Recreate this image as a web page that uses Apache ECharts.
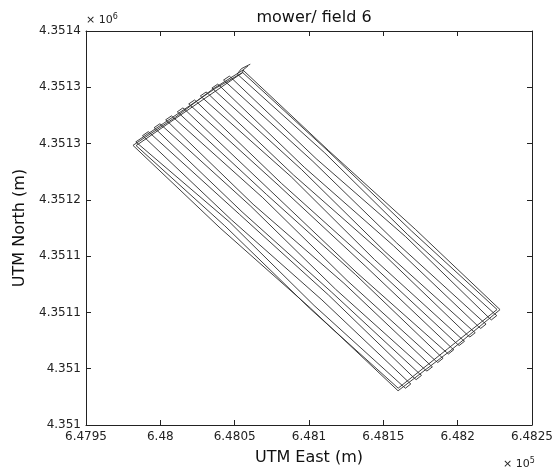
<!DOCTYPE html>
<html>
<head>
<meta charset="utf-8">
<title>mower/ field 6</title>
<script src="https://cdn.jsdelivr.net/npm/echarts@6.0.0/dist/echarts.min.js"></script>
<style>
    html, body { margin: 0; padding: 0; background: #fff; }
    #chart { width: 556px; height: 471px; }
</style>
</head>
<body>
<div id="chart"></div>
<script>
// UTM origin of the plotted window (m); track points are offsets from it
var EAST_ORIGIN = 647950;
var NORTH_ORIGIN = 4351000;
var TICK_STEP = 50;

var xTickLabels = ['6.4795', '6.48', '6.4805', '6.481', '6.4815', '6.482', '6.4825'];
var yTickLabels = ['4.351', '4.351', '4.3511', '4.3511', '4.3512', '4.3513', '4.3513', '4.3514'];

// two headland laps round the field, then back along the top edge
var headland = [
    [109.0, 319.0], [105.6, 315.3], [85.3, 298.4], [60.4, 273.6], [31.6, 248.4],
    [90.2, 175.0], [151.0, 103.8], [209.9, 30.4], [244.9, 65.8], [278.5, 102.5],
    [221.5, 173.9], [163.0, 244.0], [105.6, 315.3],
    [105.4, 313.1], [69.6, 280.8], [33.7, 248.2], [93.3, 177.0], [150.5, 103.6],
    [210.0, 32.7], [243.1, 67.5], [276.5, 102.6], [219.0, 172.3], [162.8, 243.4],
    [105.4, 313.1],
    [87.0, 299.0], [52.0, 267.8], [33.5, 251.5]
];

// back and forth passes with the turns between them
var passes = [
    [96.3, 180.6], [153.4, 106.2], [213.5, 34.2], [214.9, 32.7], [218.5, 36.5],
    [217.1, 38.0], [158.7, 111.1], [97.8, 182.3], [39.4, 255.4], [38.0, 257.0], [41.9, 260.6],
    [43.3, 259.0], [103.2, 187.2], [163.1, 115.5], [220.7, 41.8], [222.1, 40.3], [225.7, 44.1],
    [224.3, 45.6], [165.3, 117.9], [105.0, 189.3], [47.2, 262.5], [45.8, 264.1], [49.7, 267.6],
    [51.1, 266.0], [110.8, 194.4], [167.8, 120.7], [227.9, 49.4], [229.3, 47.9], [233.0, 51.7],
    [231.6, 53.2], [173.5, 125.9], [112.4, 196.1], [55.0, 269.5], [53.6, 271.1], [57.5, 274.6],
    [58.9, 273.0], [118.9, 201.9], [175.6, 128.4], [235.2, 57.0], [236.6, 55.5], [240.2, 59.3],
    [238.8, 60.8], [181.3, 133.6], [121.5, 204.7], [62.8, 276.6], [61.4, 278.2], [65.2, 281.7],
    [66.6, 280.1], [124.4, 207.7], [182.3, 135.1], [242.4, 64.6], [243.8, 63.1], [247.4, 66.9],
    [246.0, 68.4], [188.3, 140.7], [129.8, 212.5], [70.5, 283.6], [69.1, 285.2], [73.0, 288.7],
    [74.4, 287.1], [131.6, 214.5], [191.2, 143.8], [249.6, 72.1], [251.0, 70.6], [254.6, 74.4],
    [253.2, 75.9], [194.1, 146.9], [138.1, 220.4], [78.3, 290.7], [76.9, 292.3], [80.8, 295.8],
    [82.2, 294.2], [139.6, 222.1], [199.8, 152.1], [256.8, 79.7], [258.2, 78.2], [261.8, 82.0],
    [260.4, 83.5], [201.1, 154.0], [145.0, 226.9], [86.1, 297.7], [84.7, 299.3], [88.6, 302.8],
    [90.0, 301.2], [146.8, 229.0], [206.9, 159.2], [264.1, 87.3], [265.5, 85.8], [269.1, 89.6],
    [267.7, 91.1], [209.0, 161.7], [152.6, 234.2], [93.9, 304.8], [92.5, 306.4], [96.4, 309.9],
    [97.8, 308.3], [154.8, 236.6], [215.0, 167.3], [271.3, 94.9], [272.7, 93.4], [276.3, 97.2],
    [274.9, 98.7], [216.4, 169.1], [160.6, 241.7], [101.7, 311.8],
    [104.5, 316.5], [110.5, 320.5]
];

var track = headland.concat(passes).map(function (p) {
    return [EAST_ORIGIN + p[0], NORTH_ORIGIN + p[1]];
});

var FONT = 'DejaVu Sans';
var xMin = EAST_ORIGIN, xMax = EAST_ORIGIN + TICK_STEP * (xTickLabels.length - 1);
var yMin = NORTH_ORIGIN, yMax = NORTH_ORIGIN + TICK_STEP * (yTickLabels.length - 1);

function tickIndex(v, min) {
    return Math.round((v - min) / TICK_STEP);
}

var axisLine = { show: true, onZero: false, lineStyle: { color: '#222', width: 1 } };
var axisTick = { show: true, inside: true, length: 5, lineStyle: { color: '#222', width: 1 } };

var chart = echarts.init(document.getElementById('chart'));
chart.setOption({
    animation: false,
    backgroundColor: '#fff',
    title: {
        text: 'mower/ field 6',
        left: 309,
        textAlign: 'center',
        top: 5,
        textStyle: { fontFamily: FONT, fontSize: 16, fontWeight: 'normal', color: '#111' }
    },
    grid: { left: 86, right: 24, top: 31, bottom: 38, containLabel: false },
    xAxis: [{
        type: 'value', min: xMin, max: xMax, interval: TICK_STEP,
        name: 'UTM East (m)', nameLocation: 'middle', nameGap: 25,
        nameTextStyle: { fontFamily: FONT, fontSize: 16, color: '#111' },
        axisLine: axisLine, axisTick: axisTick, splitLine: { show: false },
        axisLabel: {
            margin: 6, fontFamily: FONT, fontSize: 12, color: '#222',
            formatter: function (v) { return xTickLabels[tickIndex(v, xMin)]; }
        }
    }, {
        type: 'value', position: 'top', min: xMin, max: xMax, interval: TICK_STEP,
        axisLine: axisLine, axisTick: axisTick, splitLine: { show: false },
        axisLabel: { show: false }
    }],
    yAxis: [{
        type: 'value', min: yMin, max: yMax, interval: TICK_STEP,
        name: 'UTM North (m)', nameLocation: 'middle', nameGap: 58,
        nameTextStyle: { fontFamily: FONT, fontSize: 16, color: '#111' },
        axisLine: axisLine, axisTick: axisTick, splitLine: { show: false },
        axisLabel: {
            margin: 5, fontFamily: FONT, fontSize: 12, color: '#222',
            formatter: function (v) { return yTickLabels[tickIndex(v, yMin)]; }
        }
    }, {
        type: 'value', position: 'right', min: yMin, max: yMax, interval: TICK_STEP,
        axisLine: axisLine, axisTick: axisTick, splitLine: { show: false },
        axisLabel: { show: false }
    }],
    graphic: [{
        type: 'text', left: 86, top: 13,
        style: {
            text: '{a|× 10}{b|6}', fill: '#222',
            rich: {
                a: { fontFamily: FONT, fontSize: 11, fill: '#222' },
                b: { fontFamily: FONT, fontSize: 8, fill: '#222', verticalAlign: 'top', padding: [0, 0, 6, 0] }
            }
        }
    }, {
        type: 'text', left: 503, top: 457,
        style: {
            text: '{a|× 10}{b|5}', fill: '#222',
            rich: {
                a: { fontFamily: FONT, fontSize: 11, fill: '#222' },
                b: { fontFamily: FONT, fontSize: 8, fill: '#222', verticalAlign: 'top', padding: [0, 0, 6, 0] }
            }
        }
    }],
    series: [{
        type: 'line',
        data: track,
        showSymbol: false,
        smooth: false,
        lineStyle: { color: '#2b2b2b', width: 0.9 },
        silent: true
    }]
});
</script>
</body>
</html>
